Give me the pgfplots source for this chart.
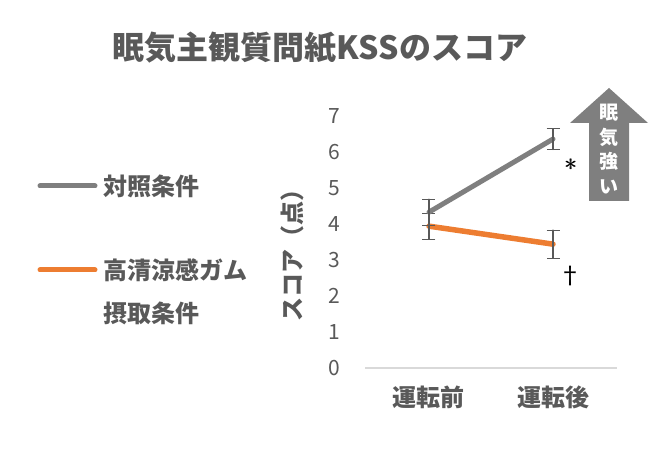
\documentclass[border=0pt]{standalone}
\usepackage{fontspec}
\setmainfont{Noto Sans CJK JP}
\usepackage{pgfplots}
\pgfplotsset{compat=1.18}
\definecolor{txtgray}{HTML}{595959}
\definecolor{cgray}{HTML}{7F7F7F}
\definecolor{corange}{HTML}{ED7D31}
\definecolor{axgray}{HTML}{D9D9D9}
\begin{document}
\begin{tikzpicture}[x=1pt,y=1pt]
\useasboundingbox (0,0) rectangle (650,449);
% title
\node[font=\fontsize{32}{36}\selectfont\bfseries, text=txtgray] at (320,401) {眠気主観質問紙KSSのスコア};
% legend
\draw[cgray, line width=5pt, line cap=round] (40,263) -- (95,263);
\node[anchor=west, font=\fontsize{24}{28}\selectfont\bfseries, text=txtgray, inner sep=0pt] at (103,263) {対照条件};
\draw[corange, line width=5pt, line cap=round] (40,179) -- (95,179);
\node[anchor=west, font=\fontsize{24}{28}\selectfont\bfseries, text=txtgray, inner sep=0pt] at (103,179) {高清涼感ガム};
\node[anchor=west, font=\fontsize{24}{28}\selectfont\bfseries, text=txtgray, inner sep=0pt] at (103,136) {摂取条件};
% y label
\node[rotate=90, font=\fontsize{24}{28}\selectfont\bfseries, text=txtgray] at (292,199) {スコア（点）};
% arrow
\fill[cgray] (609,361) -- (648,326) -- (629,326) -- (629,248) -- (589,248) -- (589,326) -- (570,326) -- cycle;
\node[text=white, font=\fontsize{19}{24.5}\selectfont\bfseries, align=center] at (609,300) {眠\\気\\強\\い};
\begin{axis}[
  at={(365pt,81pt)}, anchor=south west,
  scale only axis, width=252pt, height=252pt,
  xmin=-0.516, xmax=1.516, ymin=0, ymax=7,
  clip=false,
  axis x line=bottom, axis y line=left,
  x axis line style={draw=axgray, line width=1.2pt, -},
  y axis line style={draw=none},
  xtick={0,1}, xticklabels={運転前,運転後},
  ytick={0,1,...,7},
  major tick length=0pt,
  tick style={draw=none},
  xticklabel style={font=\fontsize{24}{28}\selectfont\bfseries, text=txtgray, yshift=-14pt},
  yticklabel style={font=\fontsize{21}{24}\selectfont, text=txtgray, xshift=-21pt},
  /pgf/number format/assume math mode=true,
]
\addplot[corange, line width=5.5pt, line cap=round,
  error bars/.cd, y dir=both, y explicit,
  error bar style={color=txtgray, line width=1.1pt},
  error mark options={rotate=90, mark size=6.5pt, line width=1.1pt, color=txtgray}]
  coordinates {(0,3.94) +- (0,0.36) (1,3.44) +- (0,0.39)};
\addplot[cgray, line width=5pt, line cap=round,
  error bars/.cd, y dir=both, y explicit,
  error bar style={color=txtgray, line width=1.1pt},
  error mark options={rotate=90, mark size=6.5pt, line width=1.1pt, color=txtgray}]
  coordinates {(0,4.33) +- (0,0.36) (1,6.36) +- (0,0.29)};
\node[font=\fontsize{30}{32}\selectfont, line width=0.8pt] at (axis cs:1.14,5.64) {$\ast$};
\node[font=\fontsize{30}{32}\selectfont, xshift=0.6pt] at (axis cs:1.14,5.64) {$\ast$};
\node[font=\fontsize{24}{26}\selectfont] at (axis cs:1.14,2.55) {†};
\end{axis}
\end{tikzpicture}
\end{document}
